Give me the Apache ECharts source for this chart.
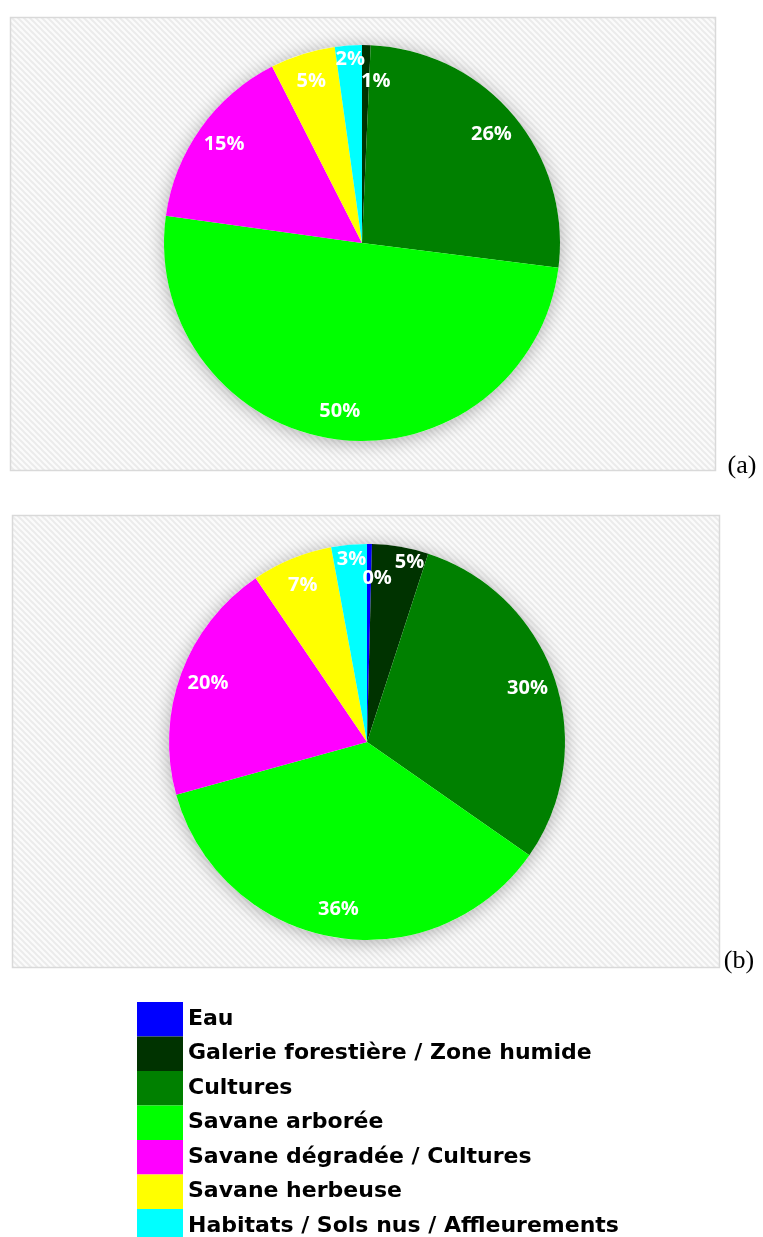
<!DOCTYPE html>
<html>
<head>
<meta charset="utf-8">
<script src="https://cdn.jsdelivr.net/npm/echarts@6/dist/echarts.min.js"></script>
<style>
  html, body { margin: 0; padding: 0; background: #ffffff; }
  #chart { width: 763px; height: 1237px; }
</style>
</head>
<body>
<div id="chart"></div>
<script>
// ---- Data ----
const categories = [
  'Eau',
  'Galerie forestière / Zone humide',
  'Cultures',
  'Savane arborée',
  'Savane dégradée / Cultures',
  'Savane herbeuse',
  'Habitats / Sols nus / Affleurements'
];
const valuesA = [0, 0.7, 26.3, 50.2, 15.3, 5.3, 2.2];
const valuesB = [0.4, 4.6, 29.7, 36.0, 19.8, 6.6, 2.9];
const panelLabels = ['(a)', '(b)'];

// ---- Styles ----
const colors = ['#0000FF', '#003300', '#008000', '#00FF00', '#FF00FF', '#FFFF00', '#00FFFF'];

// hatch pattern
const pc = document.createElement('canvas');
pc.width = 6; pc.height = 6;
const g = pc.getContext('2d');
g.fillStyle = '#fbfbfb'; g.fillRect(0, 0, 6, 6);
g.strokeStyle = '#ebebeb'; g.lineWidth = 2;
g.beginPath();
g.moveTo(-2, -2); g.lineTo(8, 8);
g.moveTo(-2, 4); g.lineTo(2, 8);
g.moveTo(4, -2); g.lineTo(8, 2);
g.stroke();
const hatch = { image: pc, repeat: 'repeat' };

const R = 198;
const centers = [[362, 243], [367, 742]];
// label nudges per label-series index -> dataIndex: [dx, dy]
const nudges = {
  2: { 1: [10, 8], 6: [0, -15] },
  5: { 0: [8, 6], 1: [14, -13], 6: [0, -14] }
};

function toData(vals) {
  return vals.map((v, i) => ({ name: categories[i], value: v, itemStyle: { color: colors[i] } }));
}

function pieSeries(vals, center) {
  return [
    {
      type: 'pie', name: 'bg', center: center, radius: R, silent: true, z: 1,
      startAngle: 90, label: { show: false }, labelLine: { show: false },
      data: [{ name: '_bg', value: 1 }],
      itemStyle: { color: '#ffffff', shadowBlur: 18, shadowColor: 'rgba(0,0,0,0.3)', shadowOffsetY: 2 }
    },
    {
      type: 'pie', center: center, radius: R, startAngle: 90, clockwise: true,
      silent: true, z: 2, animation: false,
      label: { show: false }, labelLine: { show: false },
      itemStyle: { borderWidth: 0 },
      data: toData(vals)
    },
    {
      type: 'pie', center: center, radius: [R * 0.68, R], startAngle: 90, clockwise: true,
      silent: true, z: 3, animation: false,
      itemStyle: { color: 'rgba(0,0,0,0)', borderWidth: 0 },
      labelLine: { show: false },
      label: {
        show: true, position: 'inside', color: '#ffffff',
        fontFamily: '"Open Sans", Lato, sans-serif', fontWeight: 'bold', fontSize: 20,
        formatter: p => (p.value === 0 ? '' : Math.round(p.percent) + '%')
      },
      labelLayout: function (params) {
        const n = nudges[params.seriesIndex] && nudges[params.seriesIndex][params.dataIndex];
        return n ? { dx: n[0], dy: n[1] } : {};
      },
      data: vals.map((v, i) => ({ name: categories[i], value: v, itemStyle: { color: 'rgba(0,0,0,0)' } }))
    }
  ];
}

const chart = echarts.init(document.getElementById('chart'), null, { renderer: 'canvas' });
chart.setOption({
  animation: false,
  backgroundColor: '#ffffff',
  graphic: [
    { type: 'rect', z: 0, shape: { x: 10.5, y: 17.5, width: 705, height: 453 },
      style: { fill: hatch, stroke: '#d9d9d9', lineWidth: 1.5 } },
    { type: 'rect', z: 0, shape: { x: 12.5, y: 515.5, width: 707, height: 452 },
      style: { fill: hatch, stroke: '#d9d9d9', lineWidth: 1.5 } },
    { type: 'text', z: 0, x: 742, y: 466,
      style: { text: panelLabels[0], font: '26px "Liberation Serif", serif', fill: '#000', align: 'center', verticalAlign: 'middle' } },
    { type: 'text', z: 0, x: 739, y: 961,
      style: { text: panelLabels[1], font: '26px "Liberation Serif", serif', fill: '#000', align: 'center', verticalAlign: 'middle' } }
  ],
  legend: {
    orient: 'vertical', left: 137, top: 1002, padding: 0, height: 400,
    itemWidth: 46, itemHeight: 34.5, itemGap: 0, icon: 'rect', selectedMode: false,
    textStyle: { fontFamily: '"DejaVu Sans", sans-serif', fontWeight: 'bold', fontSize: 22,
      color: '#000', padding: [11, 0, 0, 0], lineHeight: 22 },
    data: categories.map((n, i) => ({ name: n, itemStyle: { color: colors[i], borderWidth: 0 } }))
  },
  series: [].concat(pieSeries(valuesA, centers[0]), pieSeries(valuesB, centers[1]))
});
</script>
</body>
</html>
